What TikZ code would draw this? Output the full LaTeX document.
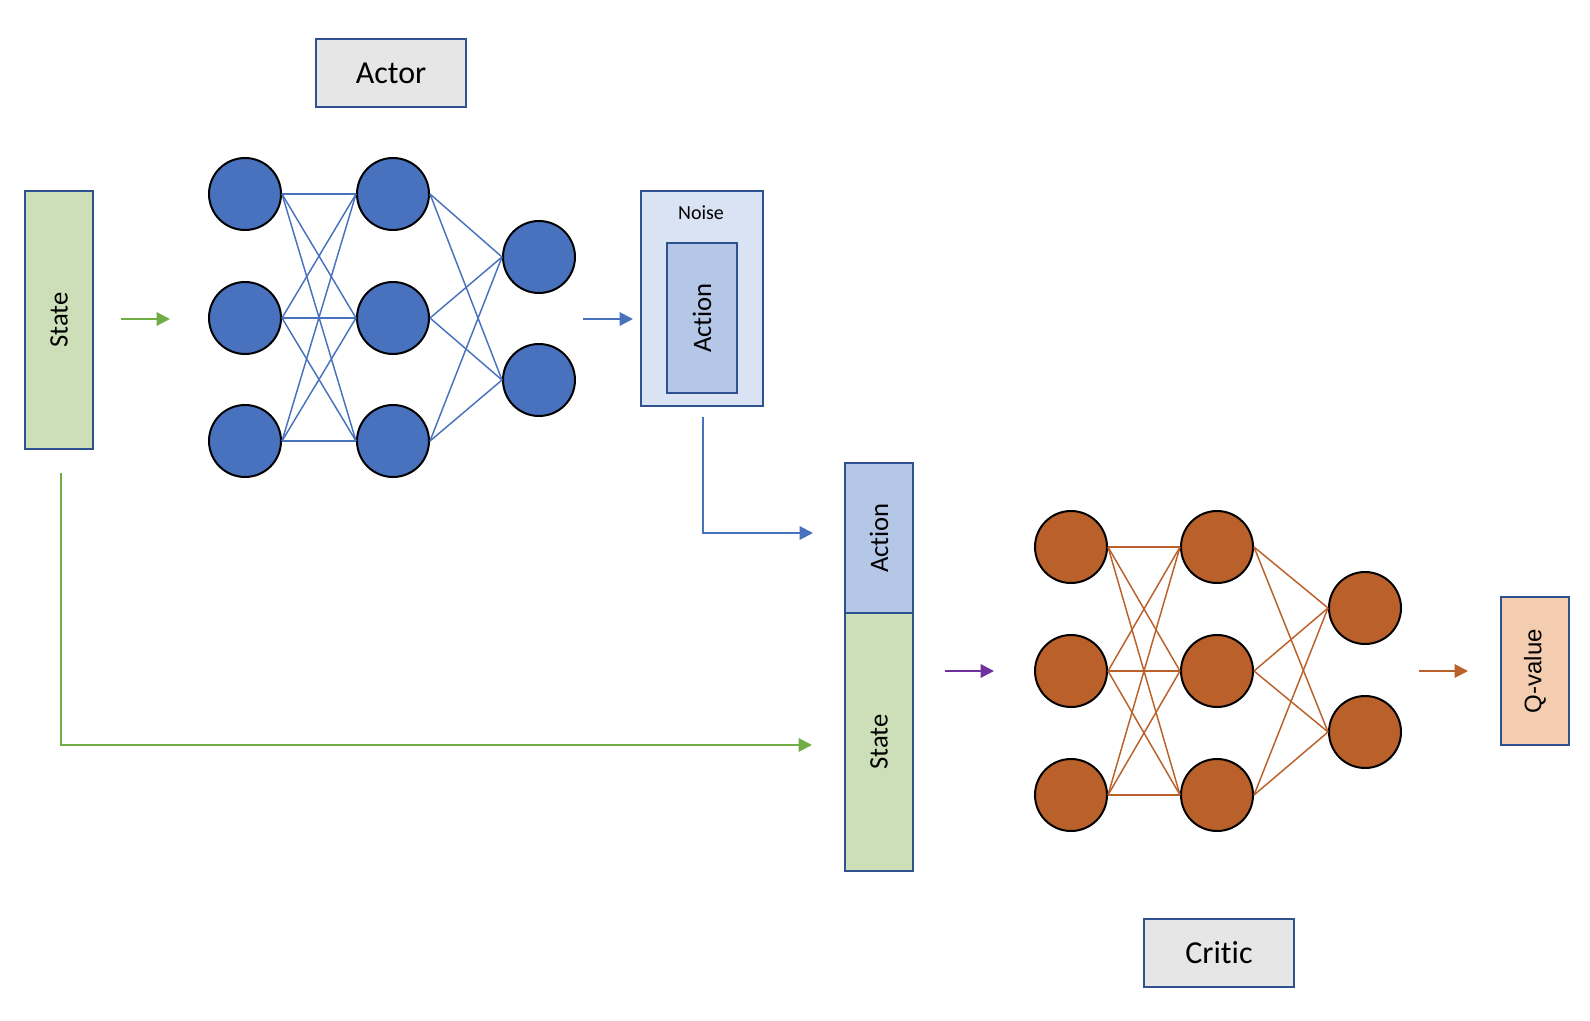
\documentclass[tikz,border=0pt]{standalone}
\usepackage{fontspec}
\setmainfont[Ligatures={NoCommon}]{Carlito}
\newfontfamily\qfont{Liberation Sans}
\usetikzlibrary{arrows.meta}

\definecolor{nnblue}{RGB}{72,114,190}
\definecolor{nnorange}{RGB}{186,96,42}
\definecolor{boxline}{RGB}{47,82,143}
\definecolor{stategreen}{RGB}{204,223,184}
\definecolor{arrowgreen}{RGB}{112,173,71}
\definecolor{titlegray}{RGB}{231,230,230}
\definecolor{noisefill}{RGB}{218,227,243}
\definecolor{actionfill}{RGB}{180,199,231}
\definecolor{qfill}{RGB}{244,204,176}
\definecolor{arrowpurple}{RGB}{112,48,160}

\tikzset{
  neuron/.style={circle, draw=black, line width=1.5pt, minimum size=54pt, inner sep=0pt},
  actorneuron/.style={neuron, fill=nnblue},
  criticneuron/.style={neuron, fill=nnorange},
  aedge/.style={draw=nnblue, line width=1.1pt},
  cedge/.style={draw=nnorange, line width=1.1pt},
  box/.style={draw=boxline, line width=1.3pt, inner sep=0pt},
  titlebox/.style={box, fill=titlegray, minimum width=112.5pt, minimum height=51pt, font=\fontsize{24}{28}\selectfont},
  flow/.style={line width=1.5pt, -{Triangle[length=10pt,width=10pt]}},
}

\begin{document}
\begin{tikzpicture}[x=0.75pt,y=0.75pt,yscale=-1,xscale=1]
\useasboundingbox (0,0) rectangle (1590,1020);

%Shape: Rectangle [state input]
\node [box, fill=stategreen, minimum width=51pt, minimum height=193.5pt] (state) at (59,320) {};
\node [rotate=90, font=\fontsize{20}{24}\selectfont] (statetxt) at (59,320) {State};
% Text Node
\node [titlebox] (actor) at (391,73) {Actor};

%Shape: Circle [actor layer 1]
\node [actorneuron] (an1) at (245,194) {};
\node [actorneuron] (an2) at (245,318) {};
\node [actorneuron] (an3) at (245,441) {};
%Shape: Circle [actor layer 2]
\node [actorneuron] (an4) at (393,194) {};
\node [actorneuron] (an5) at (393,318) {};
\node [actorneuron] (an6) at (393,441) {};
%Shape: Circle [actor layer 3]
\node [actorneuron] (an7) at (539,257) {};
\node [actorneuron] (an8) at (539,380) {};

%Straight Lines [actor weights]
\draw [aedge] (an1.east) -- (an4.west);
\draw [aedge] (an1.east) -- (an5.west);
\draw [aedge] (an1.east) -- (an6.west);
\draw [aedge] (an2.east) -- (an4.west);
\draw [aedge] (an2.east) -- (an5.west);
\draw [aedge] (an2.east) -- (an6.west);
\draw [aedge] (an3.east) -- (an4.west);
\draw [aedge] (an3.east) -- (an5.west);
\draw [aedge] (an3.east) -- (an6.west);
\draw [aedge] (an4.east) -- (an7.west);
\draw [aedge] (an4.east) -- (an8.west);
\draw [aedge] (an5.east) -- (an7.west);
\draw [aedge] (an5.east) -- (an8.west);
\draw [aedge] (an6.east) -- (an7.west);
\draw [aedge] (an6.east) -- (an8.west);

%Shape: Rectangle [noise + action]
\node [box, fill=noisefill, minimum width=91.5pt, minimum height=161.25pt] (noise) at (702,298.5) {};
\node [font=\fontsize{15}{18}\selectfont] (noisetxt) at (701,213) {Noise};
\node [box, fill=actionfill, minimum width=52.5pt, minimum height=112.5pt] (action) at (702,318) {};
\node [rotate=90, font=\fontsize{20}{24}\selectfont] (actiontxt) at (702,318) {Action};

%Shape: Rectangle [critic input]
\node [box, fill=actionfill, minimum width=51pt, minimum height=112.5pt] (caction) at (879,538) {};
\node [rotate=90, font=\fontsize{20}{24}\selectfont] (cactiontxt) at (879,538) {Action};
\node [box, fill=stategreen, minimum width=51pt, minimum height=193.5pt] (cstate) at (879,742) {};
\node [rotate=90, font=\fontsize{20}{24}\selectfont] (cstatetxt) at (879,742) {State};

%Shape: Circle [critic layer 1]
\node [criticneuron] (cn1) at (1071,547) {};
\node [criticneuron] (cn2) at (1071,671) {};
\node [criticneuron] (cn3) at (1071,795) {};
%Shape: Circle [critic layer 2]
\node [criticneuron] (cn4) at (1217,547) {};
\node [criticneuron] (cn5) at (1217,671) {};
\node [criticneuron] (cn6) at (1217,795) {};
%Shape: Circle [critic layer 3]
\node [criticneuron] (cn7) at (1365,608) {};
\node [criticneuron] (cn8) at (1365,732) {};

%Straight Lines [critic weights]
\draw [cedge] (cn1.east) -- (cn4.west);
\draw [cedge] (cn1.east) -- (cn5.west);
\draw [cedge] (cn1.east) -- (cn6.west);
\draw [cedge] (cn2.east) -- (cn4.west);
\draw [cedge] (cn2.east) -- (cn5.west);
\draw [cedge] (cn2.east) -- (cn6.west);
\draw [cedge] (cn3.east) -- (cn4.west);
\draw [cedge] (cn3.east) -- (cn5.west);
\draw [cedge] (cn3.east) -- (cn6.west);
\draw [cedge] (cn4.east) -- (cn7.west);
\draw [cedge] (cn4.east) -- (cn8.west);
\draw [cedge] (cn5.east) -- (cn7.west);
\draw [cedge] (cn5.east) -- (cn8.west);
\draw [cedge] (cn6.east) -- (cn7.west);
\draw [cedge] (cn6.east) -- (cn8.west);

%Shape: Rectangle [output]
\node [box, fill=qfill, minimum width=51pt, minimum height=111pt] (qvalue) at (1535,671) {};
\node [rotate=90, font=\qfont\fontsize{18}{22}\selectfont] (qtxt) at (1535,671) {Q-value};
% Text Node
\node [titlebox] (critic) at (1219,953) {Critic};

%Straight Lines [arrow ends]
\coordinate (sa0) at (121,319);
\coordinate (sa1) at (170,319);
\coordinate (an0) at (583,319);
\coordinate (an9) at (633,319);
\coordinate (nd0) at (703,417);
\coordinate (nd1) at (813,533);
\coordinate (sd0) at (61,473);
\coordinate (sd1) at (812,745);
\coordinate (cp0) at (945,671);
\coordinate (cp1) at (994,671);
\coordinate (qa0) at (1419,671);
\coordinate (qa1) at (1468,671);

\draw [flow, arrowgreen] (sa0) -- (sa1);
\draw [flow, nnblue] (an0) -- (an9);
\draw [flow, nnblue] (nd0) |- (nd1);
\draw [flow, arrowgreen] (sd0) |- (sd1);
\draw [flow, arrowpurple] (cp0) -- (cp1);
\draw [flow, nnorange] (qa0) -- (qa1);

\end{tikzpicture}
\end{document}
